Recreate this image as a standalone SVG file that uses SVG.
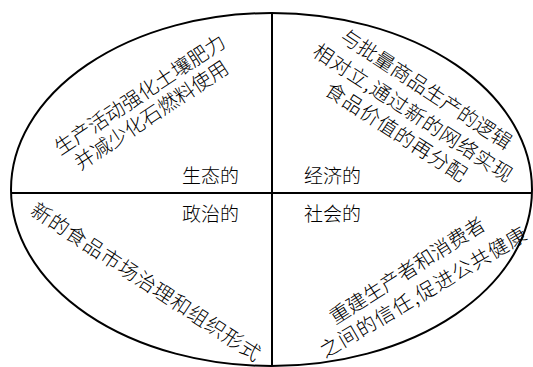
<svg xmlns="http://www.w3.org/2000/svg" width="533" height="367" viewBox="0 0 533 367">
<style>
.t{font-family:"Noto Sans CJK SC","Noto Sans",sans-serif;font-size:20px;font-weight:300;fill:#000;text-anchor:middle;dominant-baseline:central}
.l{font-family:"Noto Sans CJK SC","Noto Sans",sans-serif;font-size:19px;font-weight:300;fill:#000}
.s{fill:none;stroke:#000;stroke-width:2}
</style>
<rect width="533" height="367" fill="#fff"/>
<g id="connectors">
<ellipse class="s" cx="271.5" cy="189.5" rx="260.5" ry="176.5"/>
<line class="s" x1="272" y1="13" x2="272" y2="366"/>
<line class="s" x1="11" y1="193" x2="532" y2="193"/>
</g>
<g id="ecological">
<text class="l" x="182" y="183">生态的</text>
<text class="t" transform="translate(139,93.5) rotate(-33.5)">生产活动强化土壤肥力</text>
<text class="t" transform="translate(150.5,114) rotate(-33.5)">并减少化石燃料使用</text>
</g>
<g id="economic">
<text class="l" x="304" y="183">经济的</text>
<text class="t" transform="translate(427,88) rotate(33.5)">与批量商品生产的逻辑</text>
<text class="t" style="letter-spacing:0.8px" transform="translate(414,112) rotate(33.3)">相对立,通过新的网络实现</text>
<text class="t" style="letter-spacing:0.5px" transform="translate(397,131) rotate(33)">食品价值的再分配</text>
</g>
<g id="political">
<text class="l" x="182" y="221">政治的</text>
<text class="t" style="letter-spacing:0.8px" transform="translate(147,281) rotate(33.3)">新的食品市场治理和组织形式</text>
</g>
<g id="social">
<text class="l" x="304" y="221">社会的</text>
<text class="t" transform="translate(406.5,269.5) rotate(-32.5)">重建生产者和消费者</text>
<text class="t" style="letter-spacing:1px" transform="translate(423,291) rotate(-30.5)">之间的信任,促进公共健康</text>
</g>
</svg>
